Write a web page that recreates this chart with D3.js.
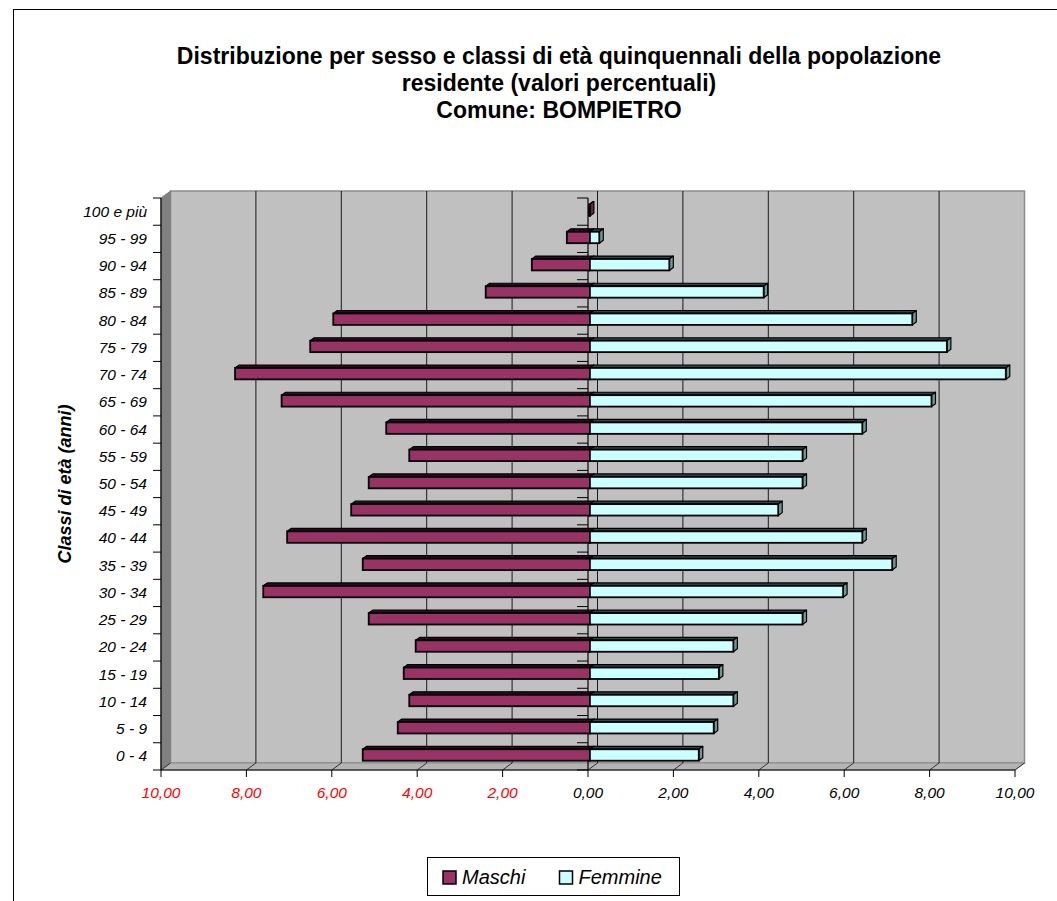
<!DOCTYPE html>
<html>
<head>
<meta charset="utf-8">
<script src="https://cdn.jsdelivr.net/npm/d3@7"></script>
<style>
  html, body { margin: 0; padding: 0; background: #ffffff; }
  svg { display: block; font-family: "Liberation Sans", Arial, sans-serif; }
</style>
</head>
<body>
<svg id="chart" width="1057" height="901"></svg>
<script>
// ---- data (top to bottom as drawn) ----
const categories = ["100 e più","95 - 99","90 - 94","85 - 89","80 - 84","75 - 79","70 - 74","65 - 69","60 - 64","55 - 59","50 - 54","45 - 49","40 - 44","35 - 39","30 - 34","25 - 29","20 - 24","15 - 19","10 - 14","5 - 9","0 - 4"];
const maschi   = [0.02,0.54,1.36,2.44,6.01,6.55,8.31,7.22,4.77,4.23,5.18,5.59,7.09,5.32,7.65,5.18,4.08,4.36,4.23,4.50,5.32];
const femmine  = [0.00,0.22,1.86,4.07,7.55,8.36,9.74,8.00,6.38,4.98,4.98,4.41,6.38,7.08,5.93,4.98,3.36,3.02,3.36,2.90,2.55];
const tickValues = [-10,-8,-6,-4,-2,0,2,4,6,8,10];
const tickLabels = ["10,00","8,00","6,00","4,00","2,00","0,00","2,00","4,00","6,00","8,00","10,00"];
const seriesNames = ["Maschi","Femmine"];
const titleLines = ["Distribuzione per sesso e classi di età quinquennali della popolazione","residente (valori percentuali)","Comune: BOMPIETRO"];
const axisTitle = "Classi di età (anni)";

// ---- layout ----
const svg = d3.select("#chart");
const DX = 9.5, DY = -7;           // 3D depth offset (front -> back)
const x = d3.scaleLinear().domain([-10, 10]).range([161, 1015]);
const y = d3.scaleBand().domain(categories).range([198, 770]);
const yTop = 198, yBot = 770;

// outer frame
svg.append("rect").attr("x", 13.5).attr("y", 9.5).attr("width", 1100).attr("height", 1000)
  .attr("fill", "#fff").attr("stroke", "#000").attr("stroke-width", 1);

// title
svg.append("g").selectAll("text").data(titleLines).join("text")
  .attr("x", 559).attr("y", (d, i) => 64 + i * 27)
  .attr("text-anchor", "middle").attr("font-weight", "bold").attr("font-size", 23)
  .attr("fill", "#000").text(d => d);

const pts = a => a.map(p => p.join(",")).join(" ");

// back wall
svg.append("polygon").attr("points", pts([
  [x(-10) + DX, yTop + DY], [x(10) + DX, yTop + DY], [x(10) + DX, yBot + DY], [x(-10) + DX, yBot + DY]
])).attr("fill", "#c0c0c0").attr("stroke", "#8c8c8c").attr("stroke-width", 1.5);

// left wall
svg.append("polygon").attr("points", pts([
  [x(-10), yTop], [x(-10) + DX, yTop + DY], [x(-10) + DX, yBot + DY], [x(-10), yBot]
])).attr("fill", "#808080").attr("stroke", "#808080").attr("stroke-width", 1);

// floor
svg.append("polygon").attr("points", pts([
  [x(-10), yBot], [x(-10) + DX, yBot + DY], [x(10) + DX, yBot + DY], [x(10), yBot]
])).attr("fill", "#b4b4b4").attr("stroke", "#8c8c8c").attr("stroke-width", 1);

// gridlines on back wall and floor
const gridVals = tickValues.filter(v => v > -10 && v < 10);
svg.append("g").selectAll("line").data(gridVals).join("line")
  .attr("x1", d => x(d) + DX).attr("x2", d => x(d) + DX)
  .attr("y1", yTop + DY).attr("y2", yBot + DY)
  .attr("stroke", "#1a1a1a").attr("stroke-width", 1);
svg.append("g").selectAll("line").data(tickValues).join("line")
  .attr("x1", d => x(d)).attr("x2", d => x(d) + DX)
  .attr("y1", yBot).attr("y2", yBot + DY)
  .attr("stroke", "#333").attr("stroke-width", 1);

// left (category) axis line + ticks + labels
const bounds = d3.range(categories.length + 1).map(i => yTop + i * y.step());
svg.append("line").attr("x1", x(-10)).attr("x2", x(-10)).attr("y1", yTop).attr("y2", yBot)
  .attr("stroke", "#000").attr("stroke-width", 1.2);
svg.append("g").selectAll("line").data(bounds).join("line")
  .attr("x1", x(-10) - 8).attr("x2", x(-10)).attr("y1", d => d).attr("y2", d => d)
  .attr("stroke", "#000").attr("stroke-width", 1);
svg.append("g").selectAll("text").data(categories).join("text")
  .attr("x", 147).attr("y", d => y(d) + y.bandwidth() / 2 + 5)
  .attr("text-anchor", "end").attr("font-style", "italic").attr("font-size", 15.5)
  .attr("fill", "#000").text(d => d);

// zero axis line + ticks
svg.append("line").attr("x1", x(0)).attr("x2", x(0)).attr("y1", yTop).attr("y2", yBot)
  .attr("stroke", "#000").attr("stroke-width", 1.2);
svg.append("g").selectAll("line").data(bounds).join("line")
  .attr("x1", x(0) - 11).attr("x2", x(0)).attr("y1", d => d).attr("y2", d => d)
  .attr("stroke", "#000").attr("stroke-width", 1);

// bottom axis
svg.append("line").attr("x1", x(-10)).attr("x2", x(10)).attr("y1", yBot).attr("y2", yBot)
  .attr("stroke", "#000").attr("stroke-width", 1.2);
svg.append("g").selectAll("line").data(tickValues).join("line")
  .attr("x1", d => x(d)).attr("x2", d => x(d)).attr("y1", yBot).attr("y2", yBot + 7)
  .attr("stroke", "#000").attr("stroke-width", 1);
svg.append("g").selectAll("text").data(tickValues).join("text")
  .attr("x", d => x(d)).attr("y", 798)
  .attr("text-anchor", "middle").attr("font-style", "italic").attr("font-size", 15.5)
  .attr("fill", d => d < 0 ? "#ff0000" : "#000")
  .text((d, i) => tickLabels[i]);

// axis title
svg.append("text").attr("transform", "translate(71,484) rotate(-90)")
  .attr("text-anchor", "middle").attr("font-weight", "bold").attr("font-style", "italic")
  .attr("font-size", 18).attr("fill", "#000").text(axisTitle);

// bars
const dFront = 0.2, dDepth = 0.42;
const bx = dFront * DX, by = dFront * DY;
const ddx = dDepth * DX, ddy = dDepth * DY;
const barH = y.bandwidth() * 0.42;
const bars = svg.append("g");
categories.forEach((c, i) => {
  const yc = y(c) + y.bandwidth() / 2 + by;
  const yt = yc - barH / 2, yb = yc + barH / 2;
  // Maschi (left)
  const m = maschi[i];
  if (m > 0) {
    const xl = x(-m) + bx, xr = x(0) + bx;
    bars.append("polygon").attr("points", pts([[xl, yt], [xl + ddx, yt + ddy], [xr + ddx, yt + ddy], [xr, yt]]))
      .attr("fill", "#2e0c1e").attr("stroke", "#000").attr("stroke-width", 1.2).attr("stroke-linejoin", "round");
    bars.append("polygon").attr("points", pts([[xr, yt], [xr + ddx, yt + ddy], [xr + ddx, yb + ddy], [xr, yb]]))
      .attr("fill", "#6b2347").attr("stroke", "#000").attr("stroke-width", 1.2).attr("stroke-linejoin", "round");
    bars.append("rect").attr("x", xl).attr("y", yt).attr("width", xr - xl).attr("height", barH)
      .attr("fill", "#993366").attr("stroke", "#000").attr("stroke-width", 1.8);
  }
  // Femmine (right)
  const f = femmine[i];
  if (f > 0) {
    const xl = x(0) + bx, xr = x(f) + bx;
    bars.append("polygon").attr("points", pts([[xl, yt], [xl + ddx, yt + ddy], [xr + ddx, yt + ddy], [xr, yt]]))
      .attr("fill", "#2f4545").attr("stroke", "#000").attr("stroke-width", 1.2).attr("stroke-linejoin", "round");
    bars.append("polygon").attr("points", pts([[xr, yt], [xr + ddx, yt + ddy], [xr + ddx, yb + ddy], [xr, yb]]))
      .attr("fill", "#6f9999").attr("stroke", "#000").attr("stroke-width", 1.2).attr("stroke-linejoin", "round");
    bars.append("rect").attr("x", xl).attr("y", yt).attr("width", xr - xl).attr("height", barH)
      .attr("fill", "#ccffff").attr("stroke", "#000").attr("stroke-width", 1.8);
  }
});

// legend
const lg = svg.append("g");
lg.append("rect").attr("x", 427.5).attr("y", 857.5).attr("width", 252).attr("height", 38)
  .attr("fill", "#fff").attr("stroke", "#000").attr("stroke-width", 1);
const legendX = [443, 559.5];
const legendFill = ["#993366", "#ccffff"];
seriesNames.forEach((s, i) => {
  lg.append("rect").attr("x", legendX[i]).attr("y", 871).attr("width", 13).attr("height", 13)
    .attr("fill", legendFill[i]).attr("stroke", "#000").attr("stroke-width", 1.5);
  lg.append("text").attr("x", legendX[i] + 19).attr("y", 884)
    .attr("font-style", "italic").attr("font-size", 20).attr("fill", "#000").text(s);
});
</script>
</body>
</html>
